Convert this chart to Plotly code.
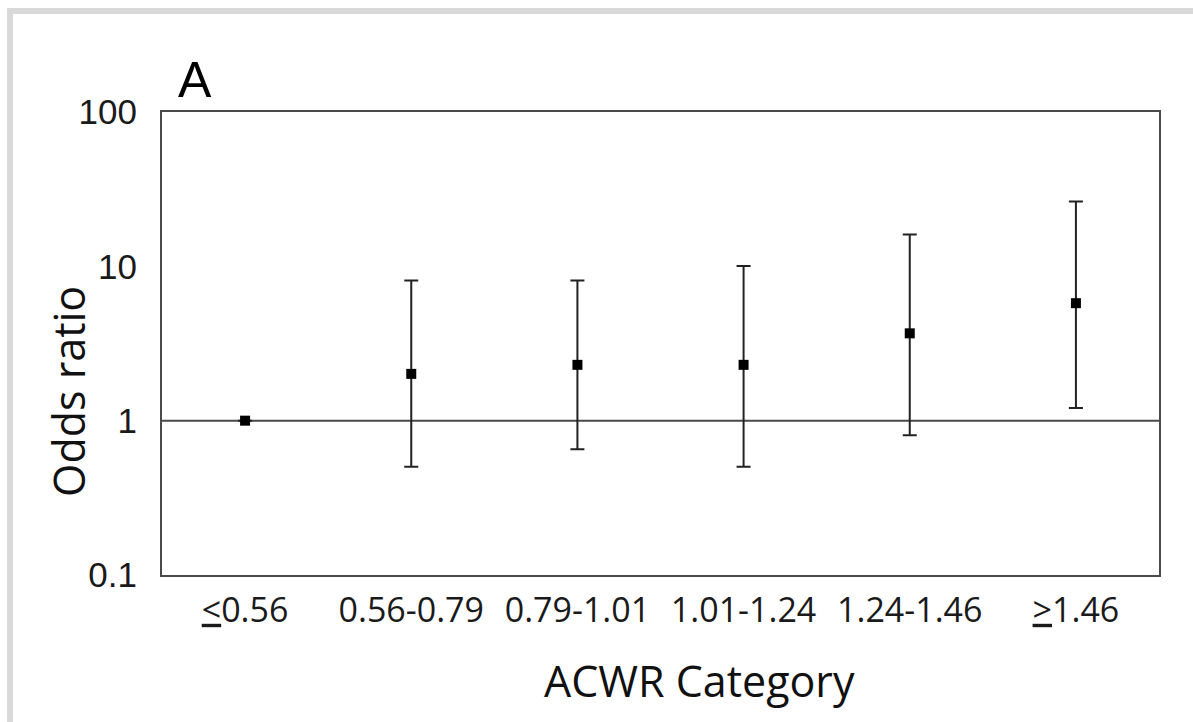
import plotly.graph_objects as go

categories = ["<u>&lt;</u>0.56", "0.56-0.79", "0.79-1.01", "1.01-1.24", "1.24-1.46", "<u>&gt;</u>1.46"]
odds_ratio = [1.0, 2.01, 2.30, 2.30, 3.68, 5.77]
ci_upper = [1.0, 8.08, 8.08, 10.06, 16.1, 26.3]
ci_lower = [1.0, 0.503, 0.653, 0.503, 0.804, 1.21]
y_tickvals = [0.1, 1, 10, 100]
y_ticktext = ["0.1", "1", "10", "100"]

W, H = 1193, 722
L, R, T, B = 162, 34, 112, 147
pw, ph = W - L - R, H - T - B

def px(x):
    return (x - L) / pw

def py(y):
    return (H - B - y) / ph

err_plus = [u - p for u, p in zip(ci_upper, odds_ratio)]
err_minus = [p - l for p, l in zip(odds_ratio, ci_lower)]

fig = go.Figure()
fig.add_trace(go.Scatter(
    x=categories, y=odds_ratio, mode="markers",
    marker=dict(symbol="square", size=10, color="#000000"),
    error_y=dict(type="data", symmetric=False, array=err_plus, arrayminus=err_minus,
                 color="#222222", thickness=2, width=7),
    showlegend=False, hoverinfo="skip",
))

tick_font = dict(family="Open Sans, DejaVu Sans, sans-serif", size=34, color="#1a1a1a")
fig.update_layout(
    width=W, height=H,
    margin=dict(l=L, r=R, t=T, b=B),
    paper_bgcolor="white", plot_bgcolor="white",
    xaxis=dict(type="category", range=[-0.5, 5.5], showgrid=False, zeroline=False,
               showline=True, mirror=True, linecolor="#4a4a4a", linewidth=2,
               ticks="outside", ticklen=4, tickcolor="rgba(0,0,0,0)", tickfont=tick_font),
    yaxis=dict(type="log", range=[-1, 2], showgrid=False, zeroline=False,
               showline=True, mirror=True, linecolor="#4a4a4a", linewidth=2,
               ticks="outside", ticklen=16, tickcolor="rgba(0,0,0,0)",
               tickvals=y_tickvals, ticktext=y_ticktext,
               tickfont=dict(family="Liberation Sans, Arial, sans-serif", size=35, color="#1a1a1a")),
    shapes=[
        dict(type="line", xref="paper", x0=0, x1=1, yref="y", y0=1, y1=1,
             line=dict(color="#4a4a4a", width=2), layer="below"),
        dict(type="rect", xref="paper", yref="paper", x0=px(7), x1=px(13), y0=py(722), y1=py(8),
             fillcolor="#d9d9d9", line=dict(width=0)),
        dict(type="rect", xref="paper", yref="paper", x0=px(7), x1=px(1193), y0=py(14), y1=py(8),
             fillcolor="#d9d9d9", line=dict(width=0)),
    ],
    annotations=[
        dict(text="ACWR Category", xref="paper", yref="paper", x=px(699), y=py(680),
             xanchor="center", yanchor="middle", showarrow=False,
             font=dict(family="Open Sans, DejaVu Sans, sans-serif", size=43, color="#111111")),
        dict(text="Odds ratio", xref="paper", yref="paper", x=px(68), y=py(392),
             xanchor="center", yanchor="middle", showarrow=False, textangle=-90,
             font=dict(family="Open Sans, DejaVu Sans, sans-serif", size=43, color="#111111")),
        dict(text="A", xref="paper", yref="paper", x=px(195), y=py(80),
             xanchor="center", yanchor="middle", showarrow=False,
             font=dict(family="Liberation Sans, Arial, sans-serif", size=50, color="#000000")),
    ],
)

fig.write_html("out.html", config={"displayModeBar": False},
               post_script="document.body.style.margin='0';document.body.style.overflow='hidden';")
